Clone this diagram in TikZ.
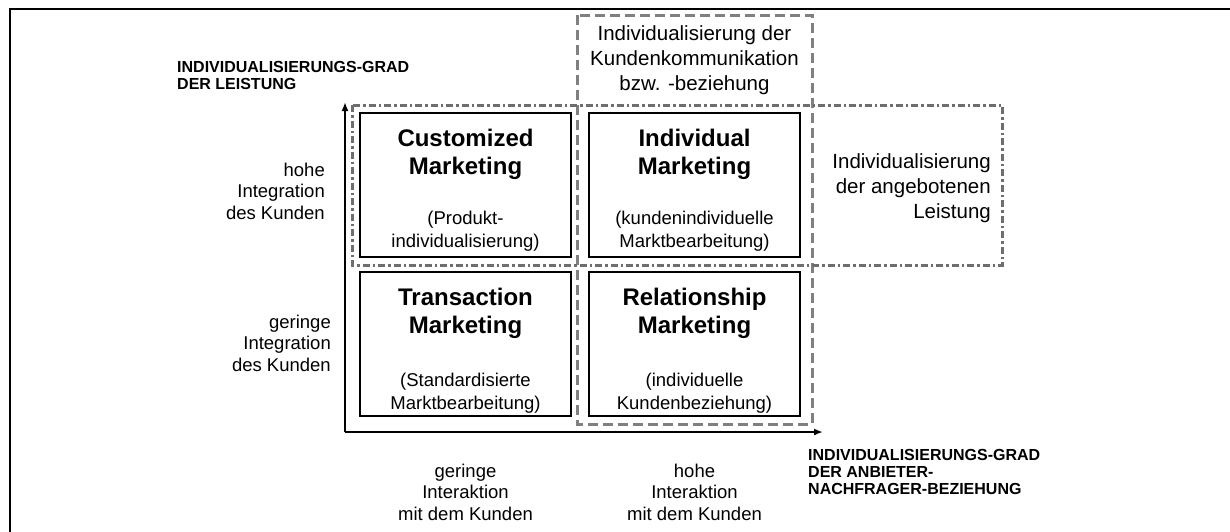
\documentclass[tikz,border=0pt]{standalone}
\usepackage{fontspec}
\setmainfont{Liberation Sans}
\usetikzlibrary{arrows.meta}
\definecolor{linegray}{HTML}{808080}
\definecolor{dotgray}{HTML}{6E6E6E}
\tikzset{
  quad/.style={draw=black, line width=1.3pt},
  commbox/.style={draw=linegray, line width=3pt, dash pattern=on 10pt off 5pt},
  offerbox/.style={draw=dotgray, line width=3pt, dash pattern=on 7pt off 3pt on 2.5pt off 3pt},
  axis/.style={draw=black, line width=2.5pt, -{Latex[length=9pt,width=7pt]}},
  frameline/.style={draw=black, line width=2.6pt},
  title/.style={font=\bfseries\fontsize{24}{28}\selectfont, align=center, inner sep=0pt},
  sub/.style={font=\fontsize{18.5}{23}\selectfont, align=center, inner sep=0pt},
  side/.style={font=\fontsize{18.5}{21.5}\selectfont, inner sep=0pt},
  big/.style={font=\fontsize{20.5}{25}\selectfont, inner sep=0pt},
  caps/.style={font=\bfseries\fontsize{16}{17}\selectfont, align=left, inner sep=0pt, anchor=west}
}
\begin{document}
\begin{tikzpicture}[x=1pt, y=-1pt]
\useasboundingbox (0,0) rectangle (1230,531);
% frame lines
\coordinate (ftl) at (10,9);
\coordinate (ftr) at (1231,9);
\coordinate (fbl) at (10,532);
\draw[frameline] (ftr) -- (ftl) -- (fbl);
% grey groupings
\draw[commbox] (577,15) rectangle (812,424);
\draw[offerbox] (352,105) rectangle (1002,265);
% quadrants
\draw[quad] (360,113) rectangle (571,257);
\draw[quad] (589,113) rectangle (800,257);
\draw[quad] (360,272) rectangle (571,416);
\draw[quad] (589,272) rectangle (800,416);
% axes
\coordinate (origin) at (345,432);
\coordinate (ytip) at (345,102);
\coordinate (xtip) at (823,432);
\draw[axis] (origin) -- (ytip);
\draw[axis] (origin) -- (xtip);
% quadrant texts
\node[title] (cmt) at (465.5,154) {Customized\\Marketing};
\node[sub] (cms) at (465.5,231) {(Produkt-\\individualisierung)};
\node[title] (imt) at (694.5,154) {Individual\\Marketing};
\node[sub] (ims) at (694.5,231) {(kundenindividuelle\\Marktbearbeitung)};
\node[title] (tmt) at (465.5,313) {Transaction\\Marketing};
\node[sub] (tms) at (465.5,393) {(Standardisierte\\Marktbearbeitung)};
\node[title] (rmt) at (694.5,313) {Relationship\\Marketing};
\node[sub] (rms) at (694.5,393) {(individuelle\\Kundenbeziehung)};
% group labels
\node[big, align=center] (komm) at (694.5,60) {Individualisierung der\\Kundenkommunikation\\bzw. -beziehung};
\node[big, align=right, anchor=east] (leist) at (991,188) {Individualisierung\\der angebotenen\\Leistung};
% side labels
\node[side, align=right, anchor=east] (hi) at (325,191) {hohe\\Integration\\des Kunden};
\node[side, align=right, anchor=east] (gi) at (331,343) {geringe\\Integration\\des Kunden};
\node[side, align=center] (gx) at (465.5,492) {geringe\\Interaktion\\mit dem Kunden};
\node[side, align=center] (hx) at (694.5,492) {hohe\\Interaktion\\mit dem Kunden};
% axis titles
\node[caps] (ylab) at (177,75.5) {INDIVIDUALISIERUNGS-GRAD\\DER LEISTUNG};
\node[caps] (xlab) at (808,472) {INDIVIDUALISIERUNGS-GRAD\\DER ANBIETER-\\NACHFRAGER-BEZIEHUNG};
\end{tikzpicture}
\end{document}
